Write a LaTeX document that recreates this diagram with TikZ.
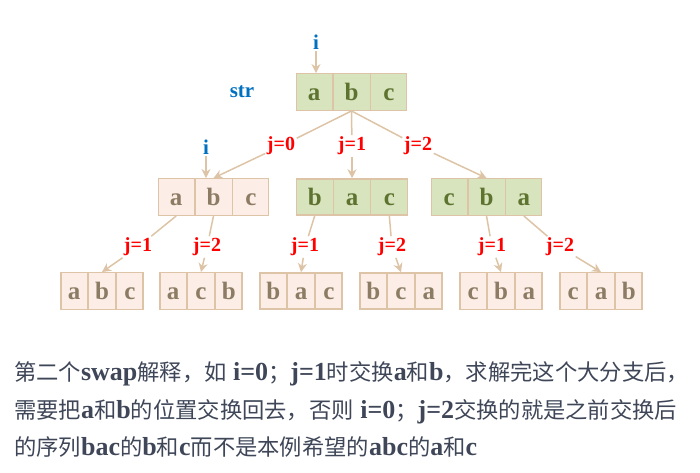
\documentclass[tikz,border=0pt]{standalone}
\usepackage{fontspec}
\setmainfont{Liberation Serif}
\newfontfamily\cjk{Noto Sans CJK SC}
\usetikzlibrary{shapes.multipart, arrows.meta}

\definecolor{linetan}{RGB}{221,196,166}
\definecolor{hotfill}{RGB}{215,228,189}
\definecolor{hottext}{RGB}{95,115,48}
\definecolor{coldfill}{RGB}{252,238,230}
\definecolor{coldtext}{RGB}{140,124,100}
\definecolor{jred}{RGB}{255,0,0}
\definecolor{iblue}{RGB}{0,112,192}
\definecolor{notegray}{RGB}{62,70,88}

\newcommand\zh[1]{{\cjk\mdseries\fontsize{22.3}{22.3}\selectfont #1}}

\begin{document}
\begin{tikzpicture}[
    x=1pt, y=-1pt,
    cellbox/.style={rectangle split, rectangle split horizontal, rectangle split parts=3,
        rectangle split part align=base,
        draw=linetan, line width=1.3pt, align=center, text height=17pt, text depth=0pt,
        inner ysep=9.5pt, font=\fontsize{25}{25}\bfseries},
    bigbox/.style={cellbox, text width=28pt, inner xsep=4pt},
    smallbox/.style={cellbox, text width=19.5pt, inner xsep=3.5pt},
    hot/.style={fill=hotfill, text=hottext},
    cold/.style={fill=coldfill, text=coldtext},
    jlabel/.style={text=jred, font=\fontsize{20}{20}\bfseries, inner sep=1.5pt},
    ilabel/.style={text=iblue, font=\fontsize{21}{21}\bfseries, inner sep=1.5pt},
    link/.style={draw=linetan, line width=1.5pt},
    arrow/.style={link, -{Stealth[length=9pt, width=9pt]}},
    note/.style={text=notegray, anchor=base west, inner sep=0pt, font=\fontsize{26}{26}\bfseries}
]
    \useasboundingbox (0,0) rectangle (700,472);

    % first level
    \node [bigbox, hot] (root) at (351.5,92) {a \nodepart{two} b \nodepart{three} c};
    \node [ilabel] (str) at (242,92) {str};
    \node [ilabel] (i1) at (316,42) {i};

    % second level
    \node [bigbox, cold] (abc) at (213.5,197) {a \nodepart{two} b \nodepart{three} c};
    \node [bigbox, hot] (bac) at (352,197) {b \nodepart{two} a \nodepart{three} c};
    \node [bigbox, hot] (cba) at (486.5,197) {c \nodepart{two} b \nodepart{three} a};
    \node [ilabel] (i2) at (206,147) {i};

    \node [jlabel] (j0) at (281,146) {j=0};
    \node [jlabel] (j1) at (352,146) {j=1};
    \node [jlabel] (j2) at (418,146) {j=2};

    % third level
    \node [smallbox, cold] (abcL) at (102,291) {a \nodepart{two} b \nodepart{three} c};
    \node [smallbox, cold] (acb) at (201,291) {a \nodepart{two} c \nodepart{three} b};
    \node [smallbox, cold] (bacL) at (301,291) {b \nodepart{two} a \nodepart{three} c};
    \node [smallbox, cold] (bca) at (401,291) {b \nodepart{two} c \nodepart{three} a};
    \node [smallbox, cold] (cbaL) at (501,291) {c \nodepart{two} b \nodepart{three} a};
    \node [smallbox, cold] (cab) at (601,291) {c \nodepart{two} a \nodepart{three} b};

    \node [jlabel] (ja1) at (138,247) {j=1};
    \node [jlabel] (ja2) at (207,247) {j=2};
    \node [jlabel] (jb1) at (305,247) {j=1};
    \node [jlabel] (jb2) at (392,247) {j=2};
    \node [jlabel] (jc1) at (492,247) {j=1};
    \node [jlabel] (jc2) at (560,247) {j=2};

    \draw [arrow] (i1) -- (i1 |- root.north);
    \draw [arrow] (i2) -- (i2 |- abc.north);

    \draw [link] (root.two south) -- (j0);
    \draw [link] (root.two south) -- (j1);
    \draw [link] (root.two south) -- (j2);
    \draw [arrow] (j0) -- (abc.two north);
    \draw [arrow] (j1) -- (bac.two north);
    \draw [arrow] (j2) -- (cba.two north);

    \draw [link] (abc.one south) -- (ja1);
    \draw [link] (abc.two south) -- (ja2);
    \draw [link] (bac.one south) -- (jb1);
    \draw [link] (bac.three south) -- (jb2);
    \draw [link] (cba.two south) -- (jc1);
    \draw [link] (cba.three south) -- (jc2);
    \draw [arrow] (ja1) -- (abcL.two north);
    \draw [arrow] (ja2) -- (acb.two north);
    \draw [arrow] (jb1) -- (bacL.two north);
    \draw [arrow] (jb2) -- (bca.two north);
    \draw [arrow] (jc1) -- (cbaL.two north);
    \draw [arrow] (jc2) -- (cab.two north);

    % note under the tree
    \node [note] (note1) at (14,380) {\zh{第二个}swap\zh{解释，如} i=0\zh{；}j=1\zh{时交换}a\zh{和}b\zh{，求解完这个大分支后，}};
    \node [note] (note2) at (14,418) {\zh{需要把}a\zh{和}b\zh{的位置交换回去，否则} i=0\zh{；}j=2\zh{交换的就是之前交换后}};
    \node [note] (note3) at (14,455) {\zh{的序列}bac\zh{的}b\zh{和}c\zh{而不是本例希望的}abc\zh{的}a\zh{和}c};

\end{tikzpicture}
\end{document}
